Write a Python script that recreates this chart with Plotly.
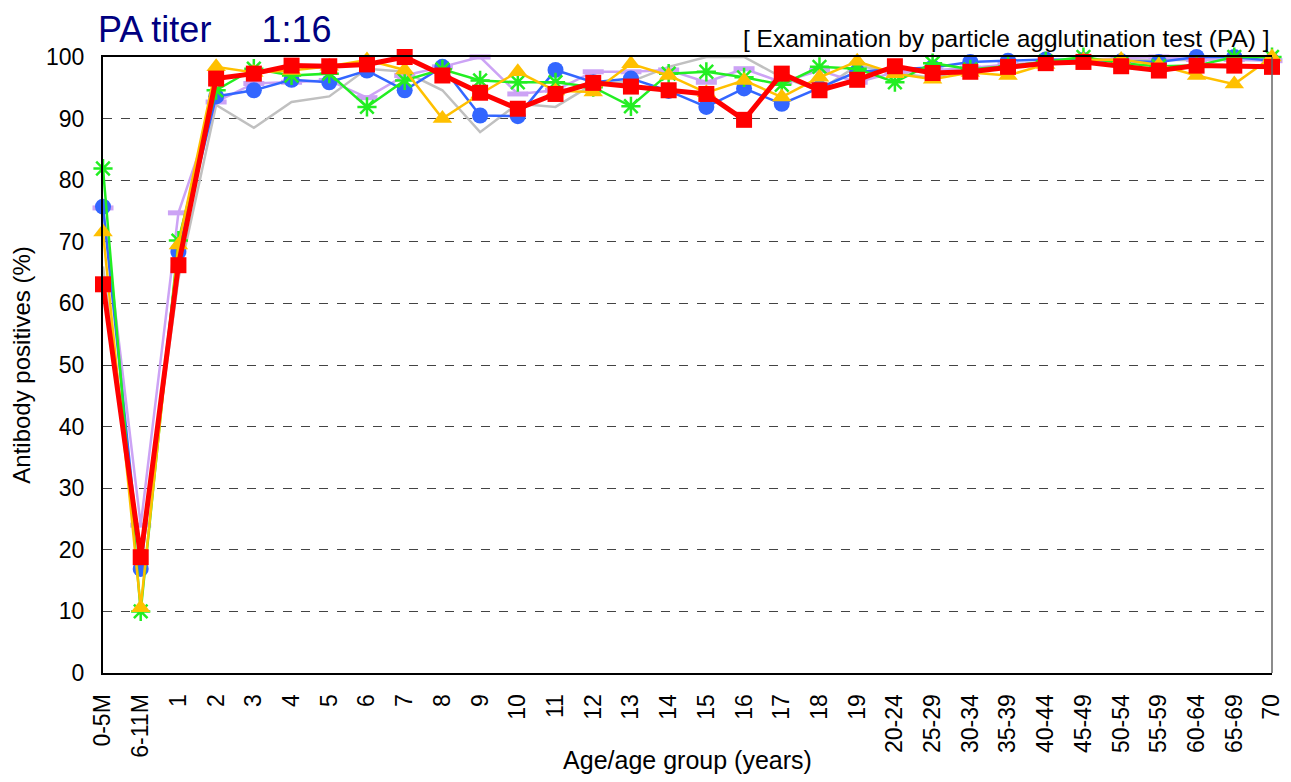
import plotly.graph_objects as go

categories = ["0-5M", "6-11M", "1", "2", "3", "4", "5", "6", "7", "8", "9", "10",
              "11", "12", "13", "14", "15", "16", "17", "18", "19",
              "20-24", "25-29", "30-34", "35-39", "40-44", "45-49", "50-54",
              "55-59", "60-64", "65-69", "70"]

gray_vals = [66, 19, 64, 92.2, 88.5, 92.7, 93.6, 98.1, 97.6, 94.6, 87.8, 92.4, 91.9,
             95.6, 96.0, 98.4, 100, 100, 96.7, 94.6, 98.6, 97.5, 96.6, 98.2, 98.5,
             99.0, 99.5, 99.5, 99.5, 99.6, 99.5, 99.5]
lavender_vals = [75.5, 24.0, 74.7, 92.7, 95.7, 95.9, 96.2, 93.4, 97.0, 98.4, 100, 94.0,
                 94.6, 97.6, 97.6, 97.9, 95.9, 98.1, 95.9, 97.8, 95.9, 97.5, 97.8,
                 98.2, 98.8, 99.2, 99.5, 99.8, 100, 99.6, 99.6, 99.4]
blue_vals = [75.7, 16.9, 68.4, 93.6, 94.6, 96.3, 95.9, 97.8, 94.6, 98.4, 90.5, 90.4,
             97.9, 95.9, 96.5, 94.5, 91.9, 94.9, 92.4, 95.0, 97.6, 98.0, 98.3, 99.2,
             99.4, 99.6, 99.5, 99.3, 99.2, 100, 100, 99.4]
green_vals = [81.9, 10.0, 70.2, 94.6, 98.1, 97.0, 97.3, 91.9, 96.2, 98.0, 96.2, 95.9,
              95.9, 95.1, 92.0, 97.3, 97.6, 96.7, 95.5, 98.4, 98.1, 95.9, 99.0, 98.0,
              98.5, 99.3, 100, 99.0, 98.5, 98.6, 100, 100]
yellow_vals = [71.6, 10.6, 69.5, 98.4, 97.5, 97.8, 98.5, 99.5, 97.9, 90.0, 94.0, 97.6,
               94.5, 94.3, 98.9, 97.0, 94.2, 96.2, 93.5, 96.7, 99.3, 97.3, 96.4, 97.5,
               97.0, 98.8, 99.5, 99.6, 98.7, 97.0, 95.6, 100]
red_vals = [63.1, 18.8, 66.2, 96.5, 97.3, 98.6, 98.5, 98.8, 100, 97.0, 94.2, 91.6,
            94.0, 95.8, 95.2, 94.6, 94.0, 89.8, 97.3, 94.6, 96.3, 98.5, 97.4, 97.6,
            98.4, 99.0, 99.2, 98.5, 97.8, 98.6, 98.6, 98.4]

y_ticks = [0, 10, 20, 30, 40, 50, 60, 70, 80, 90, 100]

xs = list(range(len(categories)))
FONT = "Liberation Sans, Arial, sans-serif"

fig = go.Figure()

fig.add_trace(go.Scatter(x=xs, y=gray_vals, mode="lines",
                         line=dict(color="#C0C0C0", width=2.5), cliponaxis=False))
fig.add_trace(go.Scatter(x=xs, y=lavender_vals, mode="lines+markers",
                         line=dict(color="#CCA3F5", width=2.5),
                         marker=dict(symbol="line-ew", size=15,
                                     line=dict(color="#CCA3F5", width=5)),
                         cliponaxis=False))
fig.add_trace(go.Scatter(x=xs, y=blue_vals, mode="lines+markers",
                         line=dict(color="#3366FF", width=2.5),
                         marker=dict(symbol="circle", size=16, color="#3366FF"),
                         cliponaxis=False))
fig.add_trace(go.Scatter(x=xs, y=green_vals, mode="lines+markers",
                         line=dict(color="#22EE22", width=2.5),
                         marker=dict(symbol="asterisk", size=16,
                                     line=dict(color="#22EE22", width=2.5)),
                         cliponaxis=False))
fig.add_trace(go.Scatter(x=xs, y=yellow_vals, mode="lines+markers",
                         line=dict(color="#FFC000", width=2.5),
                         marker=dict(symbol="triangle-up", size=17, color="#FFC000"),
                         cliponaxis=False))
fig.add_trace(go.Scatter(x=xs, y=red_vals, mode="lines+markers",
                         line=dict(color="#FF0000", width=5),
                         marker=dict(symbol="square", size=16, color="#FF0000"),
                         cliponaxis=False))

fig.update_layout(
    width=1275, height=766,
    margin=dict(l=95, r=11, t=49, b=101),
    paper_bgcolor="white", plot_bgcolor="white",
    showlegend=False,
    font=dict(family=FONT, color="black"),
    xaxis=dict(
        range=[0, len(categories) - 1],
        tickmode="array", tickvals=xs, ticktext=categories,
        tickangle=-90, tickfont=dict(size=23),
        showgrid=False, zeroline=False, automargin=False,
        showline=True, linecolor="black", linewidth=2, mirror=True,
        ticks="", ticklabelstandoff=10, ticklabeloverflow="allow",
        title=dict(text="Age/age group (years)", font=dict(size=25), standoff=0),
    ),
    yaxis=dict(
        range=[0, 100],
        tickmode="array", tickvals=y_ticks,
        tickfont=dict(size=23), automargin=False,
        showgrid=True, gridcolor="#444444", gridwidth=1, griddash="dash",
        zeroline=False,
        showline=True, linecolor="black", linewidth=2,
        ticks="", ticklabelstandoff=12,
        title=dict(text="Antibody positives (%)", font=dict(size=24), standoff=12),
    ),
    shapes=[dict(type="line", xref="paper", yref="paper", x0=1, x1=1, y0=0, y1=1,
                 line=dict(color="#666666", width=1.5))],
    annotations=[
        dict(text="PA titer\u00a0\u00a0\u00a0\u00a0 1:16", xref="paper", yref="paper",
             x=-0.006, y=1.0, xanchor="left", yanchor="bottom", yshift=5,
             showarrow=False, font=dict(size=36, color="#000080", family=FONT)),
        dict(text="[ Examination by particle agglutination test (PA) ]",
             xref="paper", yref="paper", x=1.0, y=1.0, xanchor="right",
             yanchor="bottom", yshift=3, showarrow=False,
             font=dict(size=24.5, color="black", family=FONT)),
    ],
)

fig.write_html("out.html")
